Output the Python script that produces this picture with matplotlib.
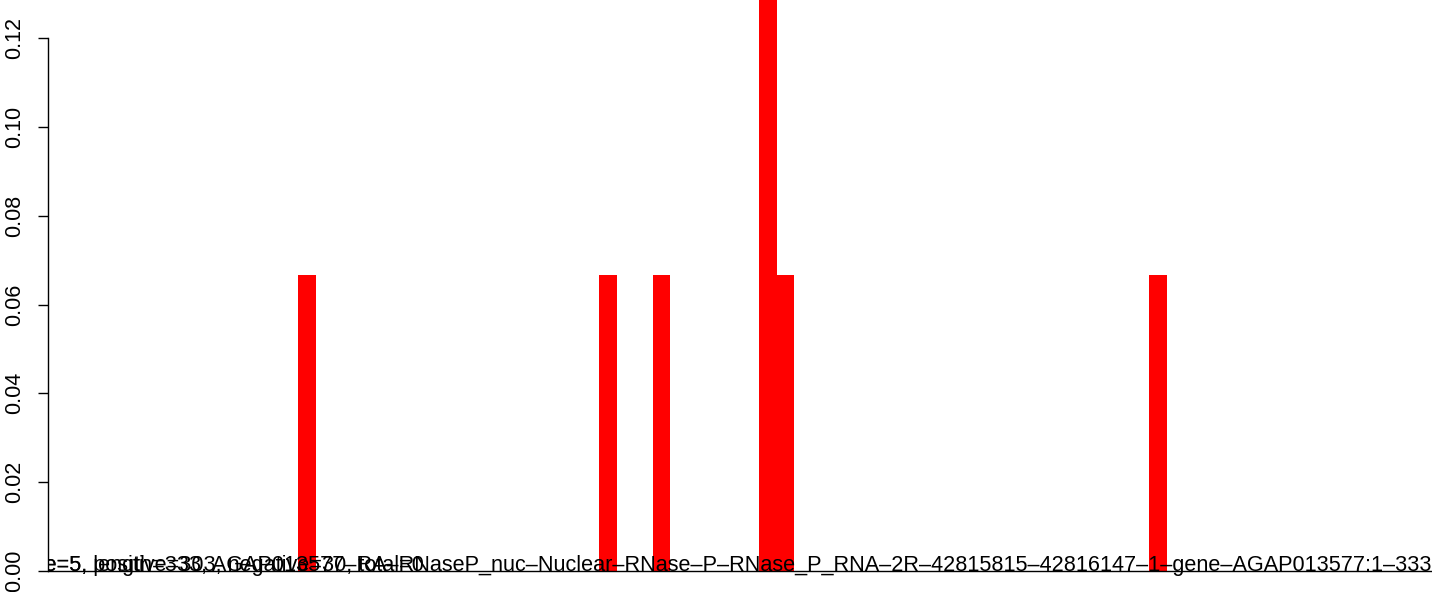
import numpy as np
import matplotlib.pyplot as plt

# bar positions (window index) and fraction of windows in each
binIndex = [14, 31, 34, 40, 41, 62]
binFraction = [1 / 15, 1 / 15, 1 / 15, 2 / 15, 1 / 15, 1 / 15]

yTicks = [0.00, 0.02, 0.04, 0.06, 0.08, 0.10, 0.12]
yTickLabels = ['0.00', '0.02', '0.04', '0.06', '0.08', '0.10', '0.12']

# two labels that R printed on top of each other at the bottom
geneLabel = ('window size=5, length=333, AGAP013577\u2013RA\u2013RNaseP_nuc\u2013Nuclear\u2013RNase\u2013P\u2013'
             'RNase_P_RNA\u20132R\u201342815815\u201342816147\u20131\u2013gene\u2013AGAP013577:1\u2013333')
countLabel = 'window size=5, positive=303, negative=30, total=0'

plt.rcParams['font.family'] = ['Liberation Sans', 'DejaVu Sans']

pxPerUnit = 533 / 0.12  # vertical pixels for one unit of the y axis

fig = plt.figure(figsize=(14.44, 5.92), dpi=100)
ax = fig.add_axes([48 / 1444, 0, (1432 - 48) / 1444, 1])

ax.bar(binIndex, binFraction, width=1, align='edge', color='#ff0000', linewidth=0, zorder=1)
ax.axhline(0, color='black', linewidth=1, zorder=2)

ax.set_xlim(-0.1, 77.96)
ax.set_ylim(-21 / pxPerUnit, 571 / pxPerUnit)

for side in ['top', 'right', 'bottom']:
    ax.spines[side].set_visible(False)
ax.spines['left'].set_bounds(0, 0.12)
ax.spines['left'].set_linewidth(1)
ax.set_xticks([])
ax.set_yticks(yTicks)
ax.set_yticklabels(yTickLabels, rotation=90, va='center', fontsize=15.5)
ax.tick_params(axis='y', length=7.5, width=1, pad=9)

trans = ax.get_yaxis_transform()
t1 = ax.text(1.0, 0, geneLabel, transform=trans, ha='right', va='baseline',
             fontsize=15.55, color='black', clip_on=True, zorder=3)

# put the second label so that both start at the same place
fig.canvas.draw()
bb = t1.get_window_extent()
axBox = ax.get_window_extent()
startX = (bb.x0 - axBox.x0) / axBox.width
ax.text(startX, 0, countLabel, transform=trans, ha='left', va='baseline',
        fontsize=15.55, color='black', clip_on=True, zorder=3)

fig.savefig('out.png', dpi=100)
